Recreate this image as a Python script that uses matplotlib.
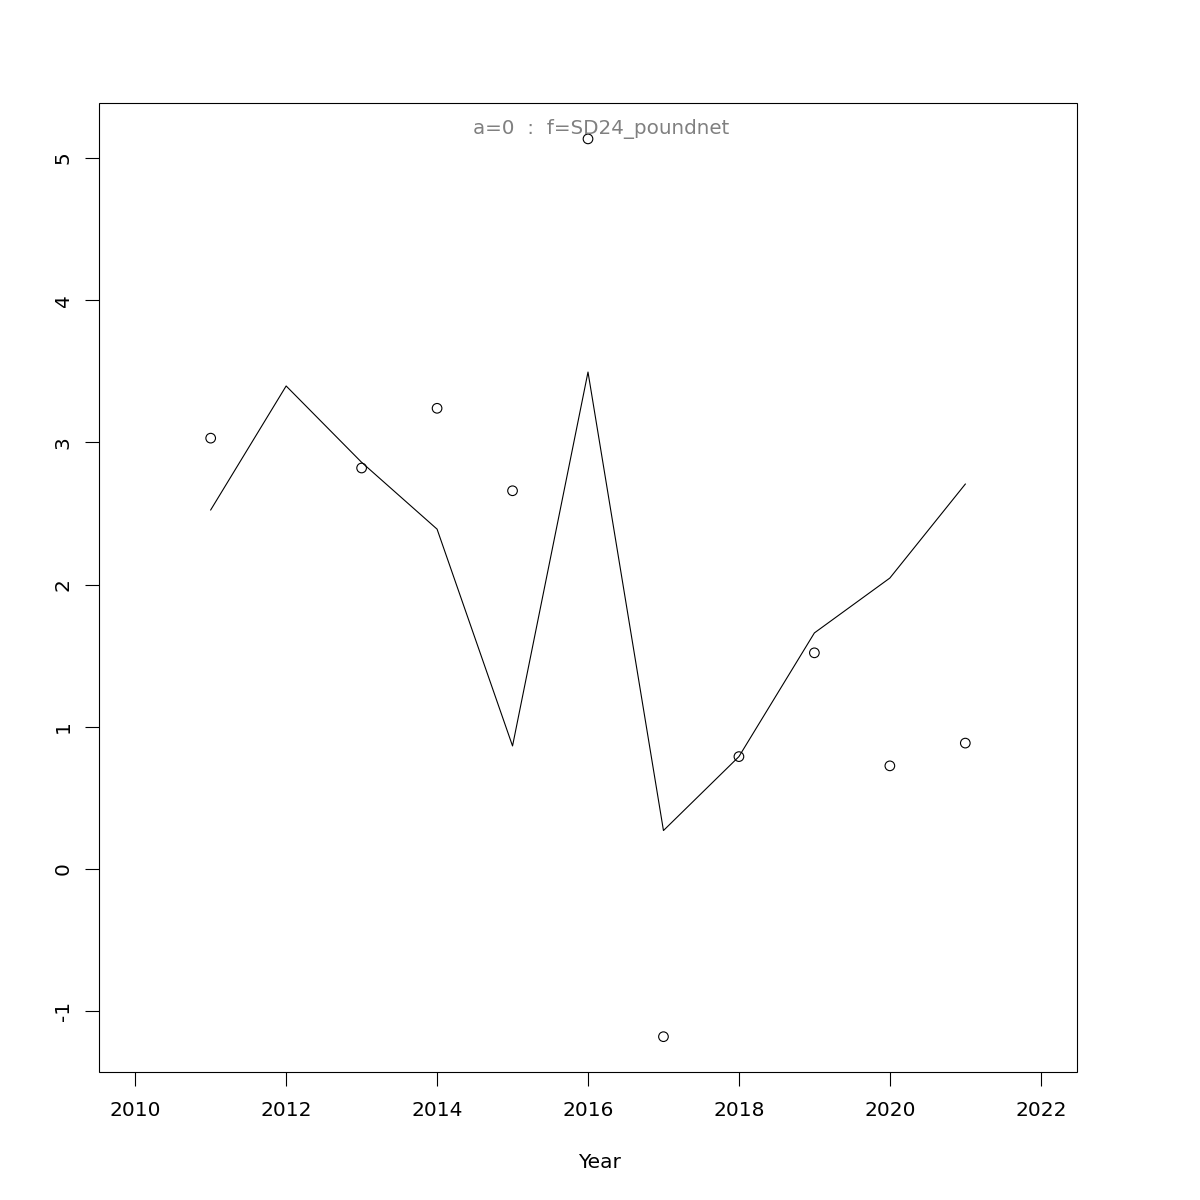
import matplotlib
matplotlib.use("Agg")
import matplotlib.pyplot as plt
from matplotlib.patches import Rectangle

years_pts = [2011, 2013, 2014, 2015, 2016, 2017, 2018, 2019, 2020, 2021]
obs = [3.03, 2.82, 3.24, 2.66, 5.135, -1.18, 0.79, 1.52, 0.725, 0.885]
years_line = [2011, 2012, 2013, 2014, 2015, 2016, 2017, 2018, 2019, 2020, 2021]
fit = [2.525, 3.397, 2.86, 2.39, 0.865, 3.495, 0.27, 0.79, 1.66, 2.046, 2.707]
xticks = [2010, 2012, 2014, 2016, 2018, 2020, 2022]
yticks = [-1, 0, 1, 2, 3, 4, 5]
title = "a=0  :  f=SD24_poundnet"

plt.rcParams['font.family'] = ['DejaVu Sans']
fig = plt.figure(figsize=(12, 12), dpi=100)
ax = fig.add_axes([99/1200, 1 - 1072/1200, (1077-99)/1200, (1072-103)/1200])

ax.plot(years_line, fit, color='black', lw=0.8)
ax.scatter(years_pts, obs, s=48, facecolors='none', edgecolors='black', linewidths=0.8, zorder=3)

ax.set_xlim(2010 - 0.48, 2022 + 0.48)
ymin, ymax = -1.176, 5.135
d = ymax - ymin
ax.set_ylim(ymin - 0.04*d, ymax + 0.04*d)

ax.set_xticks(xticks)
ax.set_xticklabels([str(t) for t in xticks])
ax.set_yticks(yticks)
ax.set_yticklabels([str(t) for t in yticks], rotation=90, va='center')
ax.tick_params(axis='x', length=10, width=0.8, pad=11, labelsize=14.5)
ax.tick_params(axis='y', length=10, width=0.8, pad=9, labelsize=14.5)
for s in ax.spines.values():
    s.set_visible(False)
ax.add_patch(Rectangle((0, 0), 1, 1, transform=ax.transAxes, fill=False, lw=0.8, ec='black', clip_on=False))

fig.text(0.5, 1 - 1162/1200, "Year", ha='center', va='center', fontsize=14.5)
ax.text(0.513, 0.973, title, transform=ax.transAxes, ha='center', va='center', fontsize=14.3, color='#808080')

fig.savefig("out.png", dpi=100)
